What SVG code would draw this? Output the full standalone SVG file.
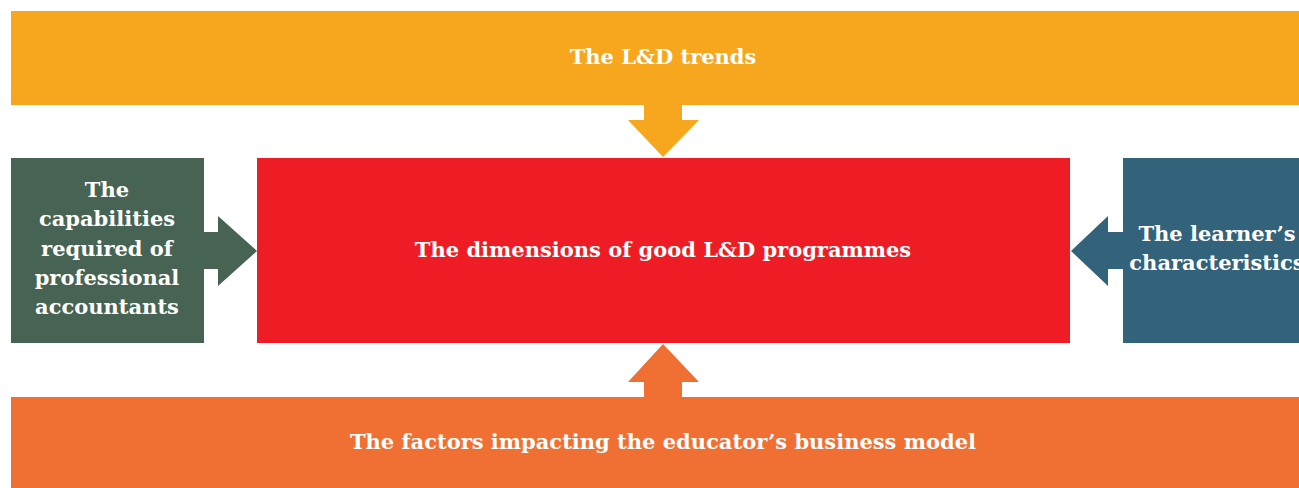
<svg xmlns="http://www.w3.org/2000/svg" width="1299" height="488" viewBox="0 0 1299 488">
<style>
.t{font-family:"DejaVu Serif","Liberation Serif",serif;font-weight:bold;fill:#ffffff;text-anchor:middle;font-size:21px}
</style>
<rect width="1299" height="488" fill="#ffffff"/>
<g id="connectors">
<polygon fill="#F6A71E" points="644,105 682,105 682,120 699,120 663,157 628,120 644,120"/>
<polygon fill="#466353" points="204,232 218,232 218,216 257,251 218,286 218,269 204,269"/>
<polygon fill="#33627B" points="1123,232 1108,232 1108,216 1071,251 1108,286 1108,269 1123,269"/>
<polygon fill="#F07033" points="644,397 682,397 682,382 699,382 663,344 628,382 644,382"/>
</g>
<g id="top">
<rect x="11" y="11" width="1288" height="94" fill="#F6A71E"/>
<text class="t" x="663" y="64">The L&amp;D trends</text>
</g>
<g id="left">
<rect x="11" y="158" width="193" height="185" fill="#466353"/>
<text class="t" x="107" y="197">The</text>
<text class="t" x="107" y="226">capabilities</text>
<text class="t" x="107" y="256">required of</text>
<text class="t" x="107" y="285">professional</text>
<text class="t" x="107" y="314">accountants</text>
</g>
<g id="center">
<rect x="257" y="158" width="813" height="185" fill="#EE1D25"/>
<text class="t" x="663" y="257">The dimensions of good L&amp;D programmes</text>
</g>
<g id="right">
<rect x="1123" y="158" width="176" height="185" fill="#33627B"/>
<text class="t" x="1217" y="241">The learner’s</text>
<text class="t" x="1217" y="270">characteristics</text>
</g>
<g id="bottom">
<rect x="11" y="397" width="1288" height="91" fill="#F07033"/>
<text class="t" x="663" y="449">The factors impacting the educator’s business model</text>
</g>
</svg>
